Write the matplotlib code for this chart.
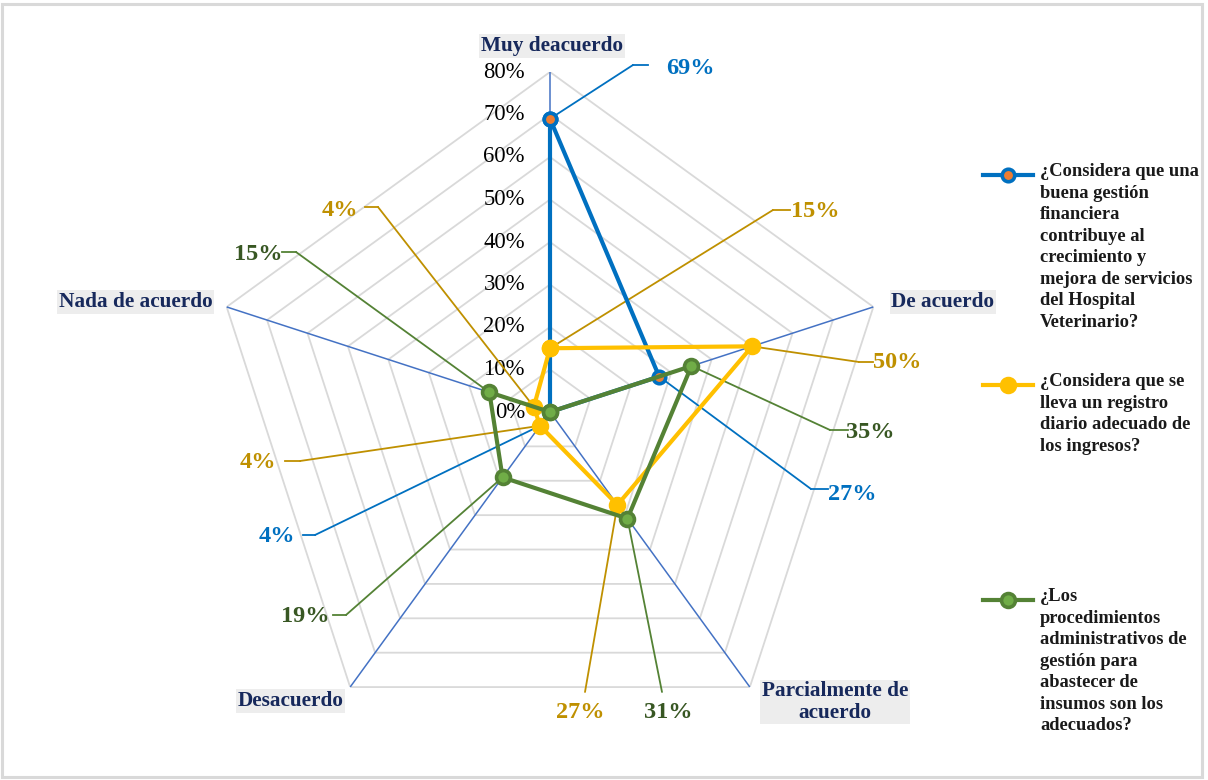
import numpy as np
import matplotlib
matplotlib.use('Agg')
import matplotlib.pyplot as plt
from matplotlib.lines import Line2D
from matplotlib.patches import Rectangle

plt.rcParams['font.family'] = ['Liberation Serif', 'DejaVu Serif']

# answer categories, clockwise from the top
categories = ['Muy deacuerdo', 'De acuerdo', 'Parcialmente de\nacuerdo',
              'Desacuerdo', 'Nada de acuerdo']

# percentage of answers per question
finanzas = [69, 27, 0, 4, 0]
registro = [15, 50, 27, 4, 4]
insumos = [0, 35, 31, 19, 15]

questions = [
    '¿Considera que una\nbuena gestión\nfinanciera\ncontribuye al\ncrecimiento y\n'
    'mejora de servicios\ndel Hospital\nVeterinario?',
    '¿Considera que se\nlleva un registro\ndiario adecuado de\nlos ingresos?',
    '¿Los\nprocedimientos\nadministrativos de\ngestión para\nabastecer de\n'
    'insumos son los\nadecuados?',
]

r_ticks = [0, 10, 20, 30, 40, 50, 60, 70, 80]

W, H = 1208, 780
cx, cy, R = 550, 412, 340


def fig_xy(x, y):
    # image pixel (top-left origin) -> figure fraction
    return x / W, 1 - y / H


fig = plt.figure(figsize=(W / 100, H / 100), dpi=100)
fig.patch.set_facecolor('white')
fig.add_artist(Rectangle((2 / W, 3 / H), 1200 / W, 773 / H, transform=fig.transFigure,
                         fill=False, ec='#D9D9D9', lw=2.2))

ax = fig.add_axes([(cx - R) / W, (H - cy - R) / H, 2 * R / W, 2 * R / H],
                  projection='polar')
ax.set_theta_zero_location('N')
ax.set_theta_direction(-1)
ax.set_ylim(0, 80)
ax.grid(False)
ax.spines['polar'].set_visible(False)
ax.set_xticks([])
ax.set_yticks([])
ax.patch.set_alpha(0)

n = len(categories)
theta = np.arange(n) * 2 * np.pi / n
theta_closed = np.append(theta, theta[0])

# pentagon grid
for r in r_ticks[1:]:
    ax.plot(theta_closed, [r] * (n + 1), color='#D9D9D9', lw=1.3, zorder=1)
for t in theta:
    ax.plot([t, t], [0, 80], color='#4472C4', lw=1.1, zorder=1.5)

for r in r_ticks:
    ax.annotate(f'{r}%', xy=(0, r), xytext=(-25, 0), textcoords='offset pixels',
                ha='right', va='center', fontsize=16.3, color='black')

# category labels: offset from the outer vertex
cat_offsets = [(2, 26, 'center'), (18, 5, 'left'), (85, -15, 'center'),
               (-7, -14, 'right'), (-14, 5, 'right')]
for t, name, (dx, dy, ha) in zip(theta, categories, cat_offsets):
    ax.annotate(name, xy=(t, 80), xytext=(dx, dy), textcoords='offset pixels',
                ha=ha, va='center', fontsize=15.3, fontweight='bold', color='#17295C',
                linespacing=1.08,
                bbox=dict(boxstyle='square,pad=0.08', fc='#EDEDED', ec='none'))

series = [finanzas, registro, insumos]
line_colors = ['#0070C0', '#FFC000', '#548235']
face_colors = ['#ED7D31', '#FFC000', '#70AD47']
label_colors = ['#0070C0', '#BF9000', '#385723']
leader_colors = ['#0070C0', '#BF9000', '#548235']
marker_sizes = [9, 10, 10]

for i, vals in enumerate(series):
    v = np.append(vals, vals[0])
    ax.plot(theta_closed, v, color=line_colors[i], lw=3.0, marker='o',
            ms=marker_sizes[i], mfc=face_colors[i], mec=line_colors[i], mew=2.6,
            zorder=5 + i, clip_on=False)

# data label text centre and leader bend points, in image pixels
label_layout = {
    (0, 0): ((690, 68), [(648, 65), (633, 65)]),
    (0, 1): ((852, 495), [(828, 489), (811, 489)]),
    (0, 3): ((277, 536), [(303, 535), (315, 535)]),
    (1, 0): ((815, 212), [(790, 210), (773, 210)]),
    (1, 1): ((897, 362), [(873, 362), (859, 362)]),
    (1, 2): ((580, 712), [(585, 692)]),
    (1, 3): ((258, 463), [(285, 461), (300, 461)]),
    (1, 4): ((340, 210), [(365, 207), (378, 207)]),
    (2, 1): ((870, 432), [(848, 430), (830, 430)]),
    (2, 2): ((668, 712), [(662, 692)]),
    (2, 3): ((305, 616), [(333, 615), (346, 615)]),
    (2, 4): ((258, 254), [(282, 252), (296, 252)]),
}

for (i, j), ((tx, ty), bends) in label_layout.items():
    val = series[i][j]
    if val == 0:
        continue
    fig.text(*fig_xy(tx, ty), f'{val}%', ha='center', va='center', fontsize=17.5,
             fontweight='bold', color=label_colors[i])
    if len(bends) > 1:
        xs, ys = zip(*[fig_xy(x, y) for x, y in bends])
        fig.add_artist(Line2D(xs, ys, transform=fig.transFigure,
                              color=leader_colors[i], lw=1.3))
    bx, by = bends[-1]
    ax.annotate('', xy=(theta[j], val), xycoords='data',
                xytext=(bx, H - by), textcoords='figure pixels',
                arrowprops=dict(arrowstyle='-', color=leader_colors[i], lw=1.3,
                                shrinkA=0, shrinkB=0), zorder=3)

# legend on the right, handle aligned with the first text line
legend_y = [175, 385, 600]
for i, (q, y) in enumerate(zip(questions, legend_y)):
    x0, y0 = fig_xy(983, y)
    x1, _ = fig_xy(1033, y)
    xm, _ = fig_xy(1008, y)
    fig.add_artist(Line2D([x0, x1], [y0, y0], transform=fig.transFigure,
                          color=line_colors[i], lw=3.0))
    fig.add_artist(Line2D([xm], [y0], transform=fig.transFigure, marker='o',
                          ms=marker_sizes[i], mfc=face_colors[i],
                          mec=line_colors[i], mew=2.6))
    fig.text(*fig_xy(1040, y - 12), q, ha='left', va='top', fontsize=13.3,
             fontweight='bold', color='#1a1a1a', linespacing=1.35)

fig.savefig('out.png', dpi=100)
